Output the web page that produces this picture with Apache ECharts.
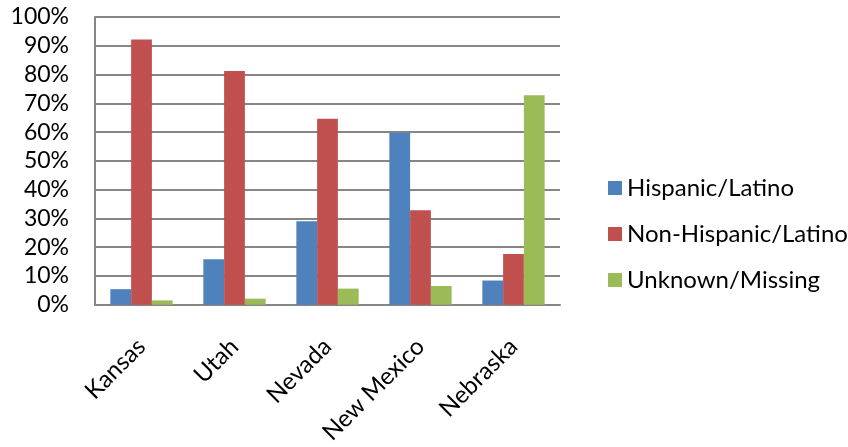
<!DOCTYPE html>
<html>
<head>
<meta charset="utf-8">
<script src="https://cdn.jsdelivr.net/npm/echarts@6/dist/echarts.min.js"></script>
<style>
  html, body { margin: 0; padding: 0; background: #fff; }
  #chart { width: 848px; height: 447px; }
</style>
</head>
<body>
<div id="chart"></div>
<script>
// Share of cases by ethnicity in each state (percent)
const states = ['Kansas', 'Utah', 'Nevada', 'New Mexico', 'Nebraska'];
const hispanic = [5.4, 15.8, 29.0, 59.8, 8.4];
const nonHispanic = [92.2, 81.2, 64.6, 32.8, 17.6];
const unknown = [1.5, 2.1, 5.6, 6.5, 72.8];
const seriesNames = ['Hispanic/Latino', 'Non-Hispanic/Latino', 'Unknown/Missing'];
const colors = ['#4F81BD', '#C0504D', '#9BBB59'];

const font = 'Lato, "Open Sans", sans-serif';
const chart = echarts.init(document.getElementById('chart'), null, { renderer: 'canvas' });

const values = [hispanic, nonHispanic, unknown];
chart.setOption({
  animation: false,
  color: colors,
  grid: { left: 95, right: 288, top: 17, bottom: 141, containLabel: false },
  legend: {
    orient: 'vertical',
    left: 603,
    top: 171,
    itemWidth: 14,
    itemHeight: 14,
    itemGap: 22,
    icon: 'rect',
    textStyle: { fontFamily: font, fontSize: 24, color: '#000', padding: [0, 0, 0, 0] },
    data: seriesNames
  },
  xAxis: {
    type: 'category',
    data: states,
    axisLine: { lineStyle: { color: '#868686', width: 2 } },
    axisTick: { show: false },
    axisLabel: {
      rotate: 45,
      margin: 38,
      interval: 0,
      fontFamily: font,
      fontSize: 24,
      color: '#000'
    }
  },
  yAxis: {
    type: 'value',
    min: 0,
    max: 100,
    interval: 10,
    axisLine: { show: true, lineStyle: { color: '#868686', width: 2 } },
    axisTick: { show: false },
    splitLine: { lineStyle: { color: '#868686', width: 2 } },
    axisLabel: {
      margin: 26,
      fontFamily: font,
      fontSize: 23,
      color: '#000',
      formatter: v => v + '%'
    }
  },
  series: seriesNames.map((name, i) => ({
    name,
    type: 'bar',
    data: values[i],
    barGap: '0%',
    barCategoryGap: '33%',
    itemStyle: { color: colors[i] }
  }))
});
</script>
</body>
</html>
